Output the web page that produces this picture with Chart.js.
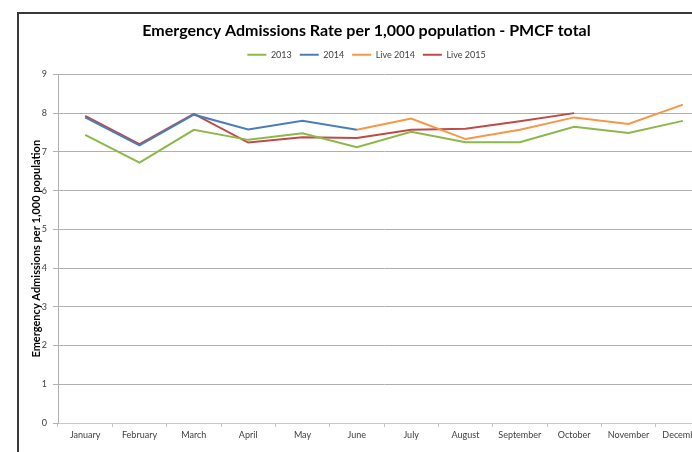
<!DOCTYPE html>
<html>
<head>
<meta charset="utf-8">
<script src="https://cdn.jsdelivr.net/npm/chart.js@4"></script>
<style>
  html, body { margin: 0; padding: 0; background: #fff; overflow: hidden; }
  #frame {
    position: absolute;
    left: 17px;
    top: 12px;
    width: 720px;
    height: 460px;
    border-left: 2px solid #3a3a3a;
    border-top: 2px solid #3a3a3a;
  }
</style>
</head>
<body>
<div id="frame"><canvas id="chart" width="691" height="450"></canvas></div>
<script>
// Months on the x axis
const months = ['January', 'February', 'March', 'April', 'May', 'June', 'July',
  'August', 'September', 'October', 'November', 'December'];

// Series values (emergency admissions per 1,000 population)
const rate2013 = [7.44, 6.72, 7.57, 7.31, 7.48, 7.12, 7.52, 7.25, 7.25, 7.65, 7.49, 7.80];
const rate2014 = [7.89, 7.17, 7.96, 7.58, 7.80, 7.57, null, null, null, null, null, null];
const live2014 = [null, null, null, null, null, 7.57, 7.86, 7.33, 7.57, 7.89, 7.72, 8.22];
const live2015 = [7.93, 7.20, 7.98, 7.24, 7.38, 7.36, 7.57, 7.60, 7.79, 8.00, null, null];

// Y axis range
const yMin = 0;
const yMax = 9;

const FONT = 'Lato, "Open Sans", sans-serif';

function series(label, data, color) {
  return {
    label: label,
    data: data,
    borderColor: color,
    backgroundColor: color,
    borderWidth: 2,
    pointRadius: 0,
    pointHoverRadius: 0,
    tension: 0,
    spanGaps: false
  };
}

new Chart(document.getElementById('chart'), {
  type: 'line',
  data: {
    labels: months,
    datasets: [
      series('2013', rate2013, '#8cb84a'),
      series('2014', rate2014, '#4a7ebb'),
      series('Live 2014', live2014, '#f79646'),
      series('Live 2015', live2015, '#be4b48')
    ]
  },
  options: {
    responsive: false,
    animation: false,
    layout: { padding: { left: 4, right: 0, top: 0, bottom: 0 } },
    plugins: {
      title: {
        display: true,
        text: 'Emergency Admissions Rate per 1,000 population - PMCF total',
        color: '#000',
        font: { family: FONT, size: 16, weight: 'bold' },
        padding: { top: 7, bottom: 2 }
      },
      // empty spacer between legend and plot
      subtitle: {
        display: true,
        text: ' ',
        font: { size: 1 },
        padding: { top: 0, bottom: 4 },
        weight: 500
      },
      legend: {
        display: true,
        labels: {
          usePointStyle: true,
          pointStyle: 'line',
          pointStyleWidth: 19,
          boxHeight: 9,
          padding: 8,
          color: '#404040',
          font: { family: FONT, size: 9 }
        }
      },
      tooltip: { enabled: false }
    },
    scales: {
      x: {
        offset: true,
        grid: {
          offset: true,
          drawOnChartArea: false,
          tickLength: 4,
          color: '#c8c8c8'
        },
        border: { color: '#c8c8c8' },
        ticks: {
          color: '#404040',
          padding: 3,
          maxRotation: 0,
          autoSkip: false,
          font: { family: FONT, size: 9 }
        },
        title: {
          display: true,
          text: 'Month',
          color: '#000',
          font: { family: FONT, size: 10, weight: 'bold' },
          padding: { top: 3, bottom: 0 }
        },
        afterFit: function (scale) { scale.height = 41; }
      },
      y: {
        min: yMin,
        max: yMax,
        grid: {
          color: '#b0b0b0',
          tickLength: 5
        },
        border: { color: '#b0b0b0' },
        ticks: {
          stepSize: 1,
          color: '#404040',
          padding: 6,
          font: { family: FONT, size: 9 }
        },
        title: {
          display: true,
          text: 'Emergency Admissions per 1,000 population',
          color: '#000',
          font: { family: FONT, size: 11, weight: 'bold' },
          padding: { top: 7, bottom: 0 }
        },
        afterFit: function (scale) { scale.width = 35; }
      }
    }
  }
});
</script>
</body>
</html>
